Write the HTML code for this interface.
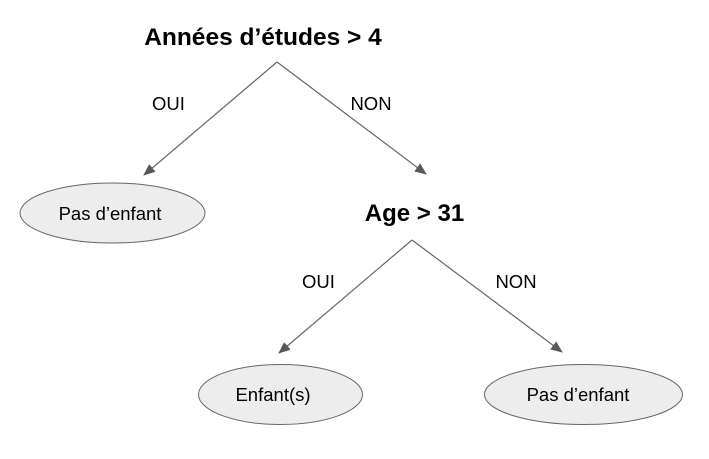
<!DOCTYPE html>
<html><head><meta charset="utf-8"><style>
html,body{margin:0;padding:0;background:#fff;}
svg{display:block;}
text{font-family:"Liberation Sans",Arial,sans-serif;fill:#000;}
</style></head><body>
<svg width="709" height="459" viewBox="0 0 709 459" xmlns="http://www.w3.org/2000/svg">
<defs>
<marker id="a" markerWidth="12" markerHeight="10" refX="11" refY="5" orient="auto" markerUnits="userSpaceOnUse">
<path d="M0,0 L12,5 L0,10 z" fill="#595959"/>
</marker>
</defs>
<text x="263" y="45" font-size="24.5" font-weight="bold" text-anchor="middle">Années d’études &gt; 4</text>
<line x1="277" y1="62" x2="144" y2="175" stroke="#666" stroke-width="1.2" marker-end="url(#a)"/>
<line x1="277" y1="62" x2="426" y2="174" stroke="#666" stroke-width="1.2" marker-end="url(#a)"/>
<text x="168.5" y="110" font-size="18.5" text-anchor="middle">OUI</text>
<text x="371" y="110" font-size="18.5" text-anchor="middle">NON</text>
<ellipse cx="112.5" cy="213" rx="92.5" ry="30" fill="#ededed" stroke="#666" stroke-width="1"/>
<text x="110" y="220" font-size="18.5" text-anchor="middle">Pas d’enfant</text>
<text x="414.5" y="221" font-size="24" font-weight="bold" text-anchor="middle">Age &gt; 31</text>
<line x1="412" y1="240" x2="279" y2="353" stroke="#666" stroke-width="1.2" marker-end="url(#a)"/>
<line x1="412" y1="240" x2="562" y2="352" stroke="#666" stroke-width="1.2" marker-end="url(#a)"/>
<text x="318.5" y="288" font-size="18.5" text-anchor="middle">OUI</text>
<text x="516" y="288" font-size="18.5" text-anchor="middle">NON</text>
<ellipse cx="280.5" cy="394.5" rx="82" ry="30" fill="#ededed" stroke="#666" stroke-width="1"/>
<text x="273" y="401" font-size="18.5" text-anchor="middle">Enfant(s)</text>
<ellipse cx="583.5" cy="394.5" rx="99" ry="30" fill="#ededed" stroke="#666" stroke-width="1"/>
<text x="578" y="401" font-size="18.5" text-anchor="middle">Pas d’enfant</text>
</svg>
</body></html>
